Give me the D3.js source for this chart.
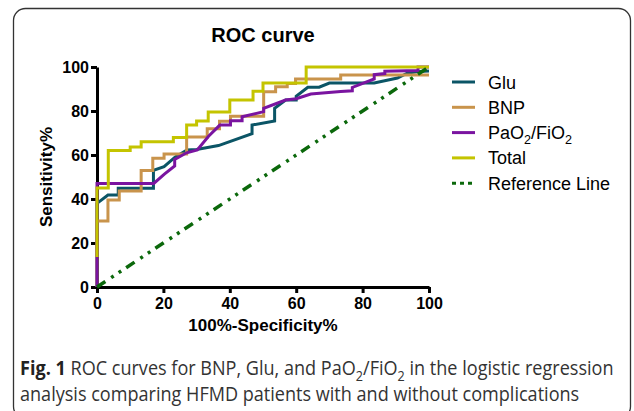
<!DOCTYPE html>
<html>
<head>
<meta charset="utf-8">
<script src="https://cdn.jsdelivr.net/npm/d3@7"></script>
<style>
  body { margin: 0; background: #fff; }
  svg { display: block; }
</style>
</head>
<body>
<div id="chart"></div>
<script>
// ROC curves, values (x = 100% - specificity, y = sensitivity)
const gluPoints = [[0,0],[0,38],[3.3,41.8],[6.4,41.8],[6.4,44.9],[17,44.9],[17,53],[20.2,54.7],[23.5,59],
  [27.1,62.3],[30,62.5],[36.6,64.3],[46.7,69.7],[46.7,73.6],[53.5,75.5],[53.5,81.2],[56.8,85],[60,85],
  [60,86.7],[63.5,90.8],[66.9,90.8],[70,92.7],[83.5,92.7],[90.5,95],[93.6,97.3],[97,98],[100,98.2]];

const bnpPoints = [[0,0],[0,30],[3.3,30],[3.3,39.5],[6.7,39.5],[6.7,43.6],[13.3,43.6],[13.3,52.9],[16.8,52.9],
  [16.8,58.5],[20.2,58.5],[20.2,60.5],[27,60.5],[27,68.2],[33.2,68.2],[33.2,71.9],[36.9,71.9],[36.9,75.3],
  [40.2,75.3],[40.2,77.6],[50.2,77.6],[50.2,88.8],[53.8,88.8],[53.8,91],[57.3,91],[57.3,92.5],[59.8,92.5],
  [59.8,94.5],[73.4,94.5],[73.4,96.4],[100,96.4]];

const paoPoints = [[0,0],[0,47.1],[17.1,47.1],[20.3,51.3],[23.4,55],[23.4,58],[27,61],[30.2,62.3],[33.6,68.5],
  [37,73.6],[40.2,73.6],[40.2,75.6],[43.7,75.6],[43.7,77.4],[50.2,79.7],[50.2,81.2],[56.8,85],[60,85.6],
  [64.4,87.7],[73.4,88.9],[76.9,89.2],[76.9,90.7],[83.5,94.6],[83.5,96.5],[86.7,97],[86.7,98.1],[96.7,98.4],
  [96.7,100],[100,100]];

const totalPoints = [[0,13.6],[0,45],[3.4,45],[3.4,62],[10,62],[10,63.6],[13.3,63.6],[13.3,66],[23,66],[23,68],
  [27,68],[27,73.6],[30,73.6],[30,75.5],[33.5,75.5],[33.5,79.5],[40,79.5],[40,85],[47,85],[47,89],[50,89],
  [50,92.7],[63,92.7],[63,100],[100,100]];

const refPoints = [[0,0],[100,100]];

const seriesNames = ["Glu", "BNP", "PaO2/FiO2", "Total", "Reference Line"];
const seriesColors = ["#0b5566", "#c9944c", "#7a14a0", "#c4c400", "#0b680b"];
const xTicks = [0, 20, 40, 60, 80, 100];
const yTicks = [0, 20, 40, 60, 80, 100];

const width = 634, height = 411;
const plot = { left: 97, right: 429, top: 67, bottom: 287 };

const svg = d3.select("#chart").append("svg")
  .attr("width", width)
  .attr("height", height)
  .style("font-family", "'Liberation Sans', Arial, sans-serif");

// figure frame (rounded box, bottom runs off the image)
svg.append("rect")
  .attr("x", 13.5).attr("y", 8.5)
  .attr("width", 617).attr("height", 410)
  .attr("rx", 12).attr("ry", 12)
  .attr("fill", "none")
  .attr("stroke", "#333")
  .attr("stroke-width", 1.3);

const x = d3.scaleLinear().domain([0, 100]).range([plot.left, plot.right]);
const y = d3.scaleLinear().domain([0, 100]).range([plot.bottom, plot.top]);

// axes
const xAxis = svg.append("g")
  .attr("transform", `translate(0,${plot.bottom})`)
  .call(d3.axisBottom(x).tickValues(xTicks).tickSize(6).tickSizeOuter(0).tickPadding(5));
const yAxis = svg.append("g")
  .attr("transform", `translate(${plot.left},0)`)
  .call(d3.axisLeft(y).tickValues(yTicks).tickSize(6).tickSizeOuter(0).tickPadding(2));

[xAxis, yAxis].forEach(a => {
  a.select(".domain").attr("stroke", "#000").attr("stroke-width", 3);
  a.selectAll(".tick line").attr("stroke", "#000").attr("stroke-width", 3);
  a.selectAll(".tick text")
    .attr("fill", "#000")
    .style("font-size", "16px")
    .style("font-weight", "bold")
    .style("font-family", "'Liberation Sans', Arial, sans-serif");
});

// curves
const line = d3.line().x(d => x(d[0])).y(d => y(d[1]));
const curves = [gluPoints, bnpPoints, paoPoints, totalPoints];
curves.forEach((pts, i) => {
  svg.append("path")
    .datum(pts)
    .attr("d", line)
    .attr("fill", "none")
    .attr("stroke", seriesColors[i])
    .attr("stroke-width", 3)
    .attr("stroke-linejoin", "miter");
});

svg.append("path")
  .datum(refPoints)
  .attr("d", line)
  .attr("fill", "none")
  .attr("stroke", seriesColors[4])
  .attr("stroke-width", 3.5)
  .attr("stroke-dasharray", "10,7,3,6,3,6");

// title
svg.append("text")
  .attr("x", (plot.left + plot.right) / 2).attr("y", 42)
  .attr("text-anchor", "middle")
  .style("font-size", "20px").style("font-weight", "bold")
  .text("ROC curve");

// axis titles
svg.append("text")
  .attr("x", (plot.left + plot.right) / 2).attr("y", 331)
  .attr("text-anchor", "middle")
  .style("font-size", "17px").style("font-weight", "bold")
  .text("100%-Specificity%");

svg.append("text")
  .attr("transform", `translate(52,${(plot.top + plot.bottom) / 2}) rotate(-90)`)
  .attr("text-anchor", "middle")
  .style("font-size", "17px").style("font-weight", "bold")
  .text("Sensitivity%");

// helper: write text with O2 subscripts (the shift back is put on the next real piece)
function addSubText(sel, str, size) {
  const parts = str.split(/(O2)/).filter(p => p);
  let back = 0;
  parts.forEach(p => {
    if (p === "O2") {
      sel.append("tspan").attr("dy", back || null).text("O");
      sel.append("tspan").attr("dy", size * 0.3).style("font-size", (size * 0.7) + "px").text("2");
      back = -size * 0.3;
    } else {
      sel.append("tspan").attr("dy", back || null).text(p);
      back = 0;
    }
  });
}

// legend
const legend = svg.append("g").attr("transform", "translate(452,82)");
seriesNames.forEach((name, i) => {
  const row = legend.append("g").attr("transform", `translate(0,${i * 25.3})`);
  row.append("line")
    .attr("x1", 0).attr("x2", 23)
    .attr("stroke", seriesColors[i])
    .attr("stroke-width", 3)
    .attr("stroke-dasharray", i === 4 ? "4,4" : null);
  const t = row.append("text")
    .attr("x", 36).attr("y", 6.5)
    .style("font-size", "18px");
  addSubText(t, name, 18);
});

// caption: condensed look = normal font squeezed horizontally to the figure's line width
const captionBold = "Fig. 1";
const captionLine1 = " ROC curves for BNP, Glu, and PaO2/FiO2 in the logistic regression";
const captionLine2 = "analysis comparing HFMD patients with and without complications";
const captionY = [375, 401];
const fs = 20;
const cap = svg.append("g")
  .style("font-family", "'Open Sans', 'Noto Sans', sans-serif")
  .attr("fill", "#333");

const l1 = cap.append("text").style("font-size", fs + "px");
l1.append("tspan").style("font-weight", "bold").attr("fill", "#222").text(captionBold);
addSubText(l1, captionLine1, fs);
const sx = 594 / l1.node().getComputedTextLength();
l1.attr("transform", `translate(20,${captionY[0]}) scale(${sx},1)`);

cap.append("text")
  .attr("transform", `translate(20,${captionY[1]}) scale(${sx},1)`)
  .style("font-size", fs + "px")
  .text(captionLine2);
</script>
</body>
</html>
